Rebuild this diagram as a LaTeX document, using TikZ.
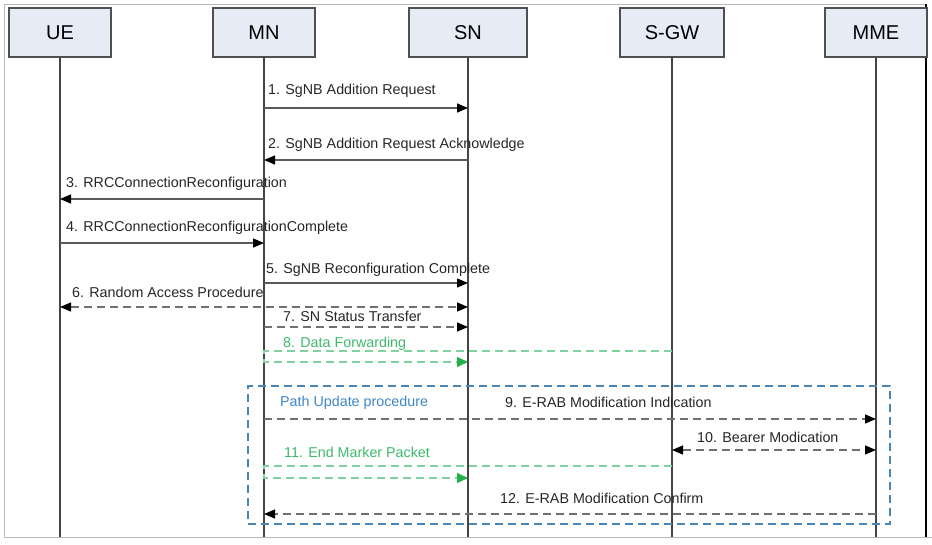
\documentclass[tikz,border=0pt]{standalone}
\usepackage{fontspec}
\setmainfont{Liberation Sans}
\usetikzlibrary{arrows.meta}
\definecolor{boxfill}{HTML}{E6ECF5}
\definecolor{boxborder}{HTML}{505050}
\definecolor{lifegray}{HTML}{454545}
\definecolor{msggray}{HTML}{5A5A5A}
\definecolor{dgray}{HTML}{707070}
\definecolor{gtext}{HTML}{3DB86B}
\definecolor{gline}{HTML}{80D2A0}
\definecolor{ghead}{HTML}{22B04B}
\definecolor{btext}{HTML}{3F86C8}
\definecolor{bline}{HTML}{4A86B5}
\begin{document}
\begin{tikzpicture}[x=1pt,y=-1pt,
  actor/.style={draw=boxborder, line width=1.3pt, fill=boxfill, minimum height=49pt, inner sep=0pt, font=\fontsize{20}{20}\selectfont},
  life/.style={draw=lifegray, line width=1.3pt},
  msg/.style={draw=msggray, line width=1.3pt, -{Triangle[length=11pt,width=9pt,color=black]}},
  dmsg/.style={msg, draw=dgray, dash pattern=on 8pt off 5pt},
  dbl/.style={dmsg, {Triangle[length=11pt,width=9pt,color=black]}-{Triangle[length=11pt,width=9pt,color=black]}},
  gmsg/.style={draw=gline, line width=1.3pt, dash pattern=on 8pt off 5pt, -{Triangle[length=11pt,width=10pt,color=ghead]}},
  lbl/.style={anchor=base west, inner sep=0pt, font=\fontsize{14.3}{14.3}\selectfont, text=black!85},
  glbl/.style={lbl, text=gtext},
  blbl/.style={lbl, text=btext},
  pubox/.style={draw=bline, line width=1.2pt, dash pattern=on 8pt off 5pt, inner sep=0pt}
]
\useasboundingbox (0,0) rectangle (932,544);
% frame
\draw[gray!55, line width=1pt] (4,537) -- (4,4) -- (926,4);
\draw[gray!55, line width=1pt] (4,537) -- (932,537);
\draw[black, line width=1.6pt] (926,4) -- (926,537);
% actors
\node[actor, minimum width=102pt] (ue) at (60,32.5) {UE};
\node[actor, minimum width=102pt] (mn) at (264,32.5) {MN};
\node[actor, minimum width=118pt] (sn) at (468,32.5) {SN};
\node[actor, minimum width=104pt] (sgw) at (672,32.5) {S-GW};
\node[actor, minimum width=102pt] (mme) at (876,32.5) {MME};
% lifeline ends
\coordinate (ueb) at (60,537);
\coordinate (mnb) at (264,537);
\coordinate (snb) at (468,537);
\coordinate (sgwb) at (672,537);
\coordinate (mmeb) at (876,537);
\draw[life] (ue) -- (ueb);
\draw[life] (mn) -- (mnb);
\draw[life] (sn) -- (snb);
\draw[life] (sgw) -- (sgwb);
\draw[life] (mme) -- (mmeb);
% path update box
\node[pubox, minimum width=642pt, minimum height=138pt] (pu) at (569,455) {};
% message levels
\coordinate (m1) at (0,108);
\coordinate (m2) at (0,160);
\coordinate (m3) at (0,199);
\coordinate (m4) at (0,243);
\coordinate (m5) at (0,283);
\coordinate (m6) at (0,307);
\coordinate (m7) at (0,327);
\coordinate (m8a) at (0,351);
\coordinate (m8b) at (0,362);
\coordinate (m9) at (0,419);
\coordinate (m10) at (0,450);
\coordinate (m11a) at (0,466);
\coordinate (m11b) at (0,478);
\coordinate (m12) at (0,514);
% messages
\draw[msg] (mn |- m1) -- (sn |- m1);
\node[lbl] (l1) at (268,94) {1. SgNB Addition Request};
\draw[msg] (sn |- m2) -- (mn |- m2);
\node[lbl] (l2) at (268,148) {2. SgNB Addition Request Acknowledge};
\draw[msg] (mn |- m3) -- (ue |- m3);
\node[lbl] (l3) at (66,187) {3. RRCConnectionReconfiguration};
\draw[msg] (ue |- m4) -- (mn |- m4);
\node[lbl] (l4) at (66,231) {4. RRCConnectionReconfigurationComplete};
\draw[msg] (mn |- m5) -- (sn |- m5);
\node[lbl] (l5) at (266,273) {5. SgNB Reconfiguration Complete};
\draw[dbl] (ue |- m6) -- (sn |- m6);
\node[lbl] (l6) at (72,297) {6. Random Access Procedure};
\draw[dmsg] (mn |- m7) -- (sn |- m7);
\node[lbl] (l7) at (283,321) {7. SN Status Transfer};
\draw[gmsg] (sgw |- m8a) -- (mn |- m8a) -- (mn |- m8b) -- (sn |- m8b);
\node[glbl] (l8) at (283,347) {8. Data Forwarding};
\node[blbl] (lpu) at (280,406) {Path Update procedure};
\draw[dmsg] (mn |- m9) -- (mme |- m9);
\node[lbl] (l9) at (505,407) {9. E-RAB Modification Indication};
\draw[dbl] (sgw |- m10) -- (mme |- m10);
\node[lbl] (l10) at (697,442) {10. Bearer Modication};
\draw[gmsg] (sgw |- m11a) -- (mn |- m11a) -- (mn |- m11b) -- (sn |- m11b);
\node[glbl] (l11) at (284,457) {11. End Marker Packet};
\draw[dmsg] (mme |- m12) -- (mn |- m12);
\node[lbl] (l12) at (500,503) {12. E-RAB Modification Confirm};
\end{tikzpicture}
\end{document}
